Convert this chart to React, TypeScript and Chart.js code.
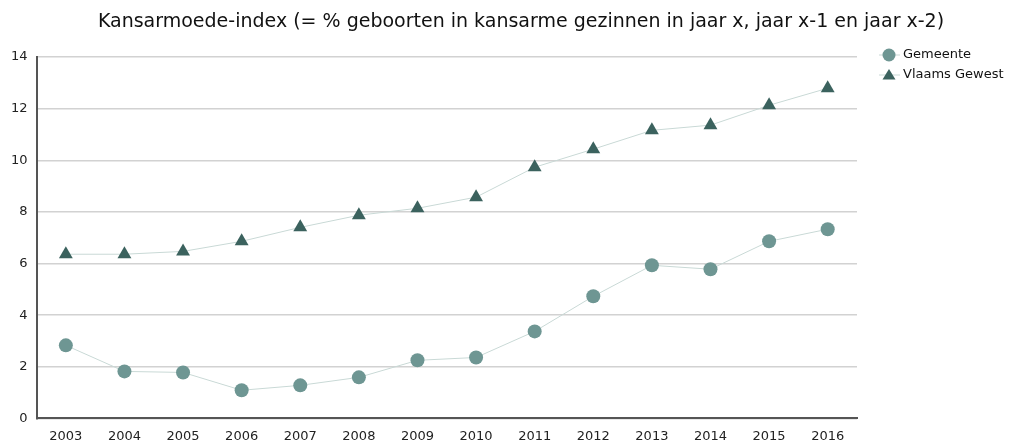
import React, { useEffect, useRef } from "react";
import { Chart, registerables } from "chart.js";

Chart.register(...registerables);

const years = ["2003","2004","2005","2006","2007","2008","2009","2010","2011","2012","2013","2014","2015","2016"];
const gemeente = [2.83, 1.82, 1.78, 1.09, 1.28, 1.59, 2.25, 2.36, 3.37, 4.73, 5.93, 5.78, 6.86, 7.33];
const vlaams = [6.36, 6.36, 6.47, 6.86, 7.4, 7.87, 8.14, 8.57, 9.73, 10.43, 11.16, 11.36, 12.13, 12.79];
const titleText = "Kansarmoede-index (= % geboorten in kansarme gezinnen in jaar x, jaar x-1 en jaar x-2)";
const seriesNames = ["Gemeente", "Vlaams Gewest"];

const FONT = "'DejaVu Sans', sans-serif";
const GEM_COLOR = "#6e9693";
const VL_COLOR = "#3b625e";
const LINE_COLOR = "#c9d9d6";

const extras = {
  id: "extras",
  afterDraw(chart: any) {
    const ctx = chart.ctx;
    ctx.save();
    ctx.fillStyle = "#111";
    ctx.font = `19px ${FONT}`;
    ctx.textAlign = "center";
    ctx.textBaseline = "middle";
    ctx.fillText(titleText, 521, 22);

    const items = [
      { name: seriesNames[0], color: GEM_COLOR, style: "circle", y: 55 },
      { name: seriesNames[1], color: VL_COLOR, style: "triangle", y: 75 },
    ];
    ctx.font = `13px ${FONT}`;
    ctx.textAlign = "left";
    for (const it of items) {
      ctx.strokeStyle = LINE_COLOR;
      ctx.lineWidth = 1;
      ctx.beginPath();
      ctx.moveTo(879, it.y);
      ctx.lineTo(900, it.y);
      ctx.stroke();
      ctx.fillStyle = it.color;
      ctx.beginPath();
      if (it.style === "circle") {
        ctx.arc(889, it.y, 6.5, 0, Math.PI * 2);
      } else {
        ctx.moveTo(889, it.y - 6);
        ctx.lineTo(895.5, it.y + 4.5);
        ctx.lineTo(882.5, it.y + 4.5);
        ctx.closePath();
      }
      ctx.fill();
      ctx.fillStyle = "#111";
      ctx.fillText(it.name, 903, it.y);
    }
    ctx.restore();
  },
};

export default function App() {
  const ref = useRef<HTMLCanvasElement>(null);
  useEffect(() => {
    document.body.style.margin = "0";
    const chart = new Chart(ref.current!, {
      type: "line",
      data: {
        labels: years,
        datasets: [
          {
            label: seriesNames[0],
            data: gemeente,
            borderColor: LINE_COLOR,
            borderWidth: 1,
            pointBackgroundColor: GEM_COLOR,
            pointBorderColor: GEM_COLOR,
            pointStyle: "circle",
            pointRadius: 7,
            pointBorderWidth: 0,
          },
          {
            label: seriesNames[1],
            data: vlaams,
            borderColor: LINE_COLOR,
            borderWidth: 1,
            pointBackgroundColor: VL_COLOR,
            pointBorderColor: VL_COLOR,
            pointStyle: "triangle",
            pointRadius: 8,
            pointBorderWidth: 0,
          },
        ],
      },
      options: {
        animation: false,
        responsive: false,
        layout: { padding: { top: 57, right: 152, left: 2, bottom: -12 } },
        plugins: {
          legend: { display: false },
          title: { display: false },
          tooltip: { enabled: false },
        },
        scales: {
          x: {
            offset: true,
            grid: { display: false, drawTicks: false },
            border: { display: true, color: "#555", width: 2 },
            ticks: { color: "#222", font: { family: FONT, size: 13 }, padding: 10, maxRotation: 0, autoSkip: false },
          },
          y: {
            min: 0,
            max: 14,
            grid: { color: "#d2d2d2", lineWidth: 1.5, drawTicks: false },
            border: { display: true, color: "#555", width: 2 },
            ticks: { stepSize: 2, color: "#222", font: { family: FONT, size: 13 }, padding: 9 },
          },
        },
      },
      plugins: [extras],
    });
    return () => chart.destroy();
  }, []);
  return (
    <div style={{ width: 1009, height: 442, background: "#fff" }}>
      <canvas ref={ref} width={1009} height={442} />
    </div>
  );
}
